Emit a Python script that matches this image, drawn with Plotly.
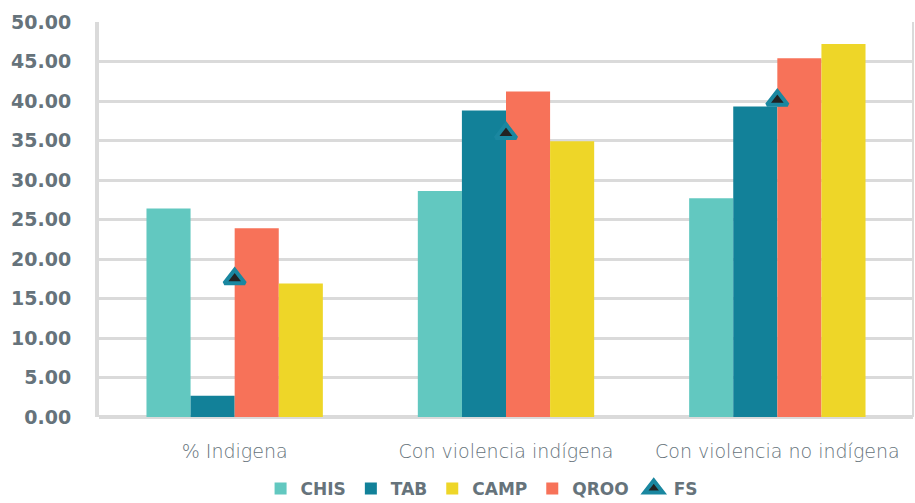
import plotly.graph_objects as go

categories = ["% Indigena", "Con violencia indígena", "Con violencia no indígena"]
chis = [26.4, 28.6, 27.7]
tab = [2.7, 38.8, 39.3]
qroo = [23.9, 41.2, 45.4]
camp = [16.9, 34.9, 47.2]
fs = [17.5, 35.9, 40.1]
y_ticks = [0, 5, 10, 15, 20, 25, 30, 35, 40, 45, 50]

GRAY_TEXT = "#66737B"
GRID = "#DADADA"

fig = go.Figure()
bars = [
    ("CHIS", chis, "#62C8C0", 1),
    ("TAB", tab, "#128199", 2),
    ("QROO", qroo, "#F77259", 4),
    ("CAMP", camp, "#EED628", 3),
]
for name, vals, color, rank in bars:
    fig.add_trace(go.Bar(
        x=categories, y=vals, name=name, marker_color=color,
        marker_line_width=0, legendrank=rank,
    ))

fig.add_trace(go.Scatter(
    x=categories, y=fs, name="FS", mode="markers", legendrank=5,
    marker=dict(symbol="triangle-up", size=18, color="#222222",
                line=dict(color="#1A87A0", width=4)),
))

fig.update_layout(
    width=915, height=503,
    margin=dict(l=99, r=2, t=22, b=86, autoexpand=False),
    paper_bgcolor="white", plot_bgcolor="white",
    barmode="group", bargap=0.35, bargroupgap=0,
    font=dict(family="DejaVu Sans", color=GRAY_TEXT),
    showlegend=True,
    legend=dict(
        orientation="h", x=0.47, xanchor="center", y=-0.182, yanchor="middle",
        font=dict(size=17, weight="bold", color=GRAY_TEXT),
        bgcolor="rgba(0,0,0,0)",
        itemwidth=30, tracegroupgap=0,
    ),
    xaxis=dict(
        showgrid=False, ticks="", showline=False, automargin=False,
        tickfont=dict(family="DejaVu Sans", size=19, weight=200, color=GRAY_TEXT),
        ticklabelstandoff=21,
    ),
    yaxis=dict(
        range=[0, 50], tickvals=y_ticks, automargin=False,
        ticktext=[f"{v:.2f}" for v in y_ticks],
        showgrid=True, gridcolor=GRID, gridwidth=3,
        zeroline=True, zerolinecolor=GRID, zerolinewidth=4,
        showline=True, linecolor=GRID, linewidth=4,
        ticks="", ticklabelstandoff=20,
        tickfont=dict(family="DejaVu Sans", size=19, weight="bold", color=GRAY_TEXT),
    ),
    shapes=[dict(type="line", xref="paper", yref="paper", x0=1, x1=1, y0=0, y1=1,
                 line=dict(color=GRID, width=2))],
)

fig.write_html("out.html")
